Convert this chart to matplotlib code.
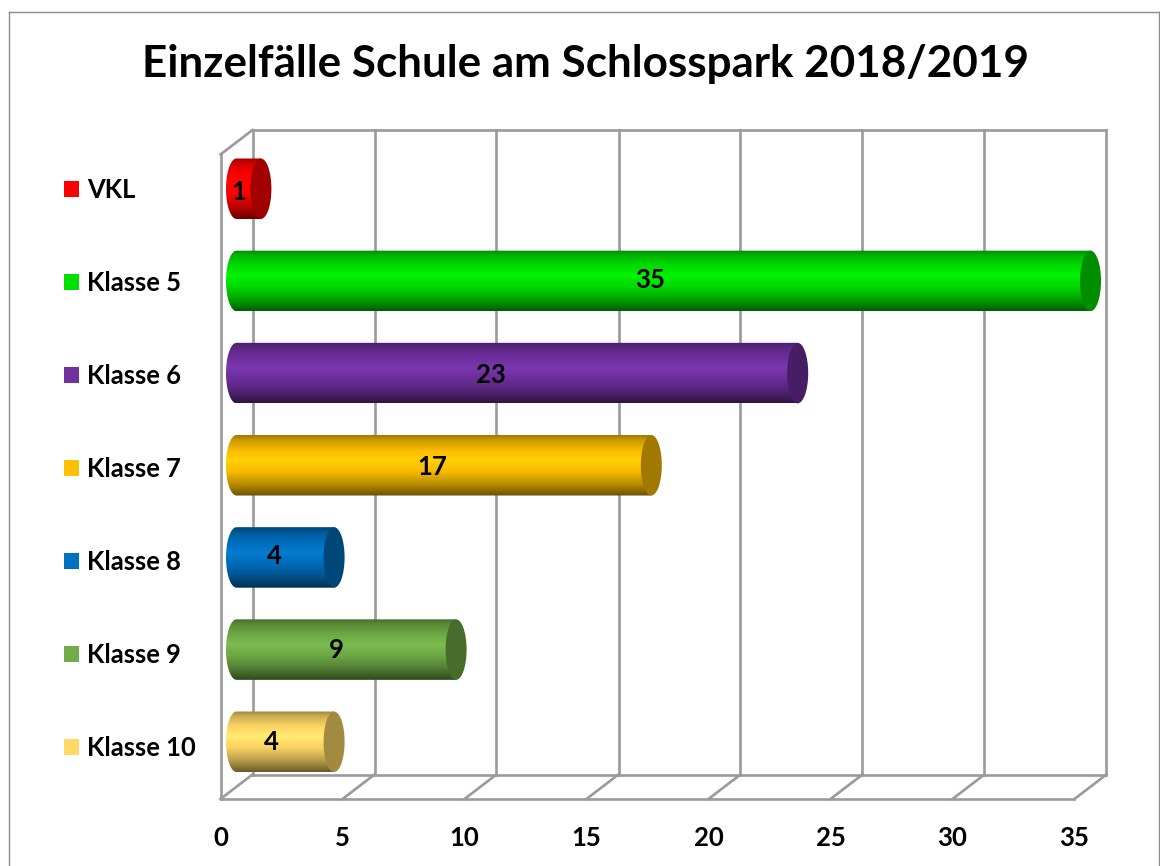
import numpy as np
import matplotlib
matplotlib.use("Agg")
import matplotlib.pyplot as plt
from matplotlib.patches import Patch, Ellipse, PathPatch
from matplotlib.path import Path
from matplotlib.lines import Line2D
from matplotlib.colors import to_rgb

categories = ["VKL", "Klasse 5", "Klasse 6", "Klasse 7", "Klasse 8", "Klasse 9", "Klasse 10"]
values = [1, 35, 23, 17, 4, 9, 4]
colors = ["#FF0000", "#00E000", "#7030A0", "#FFC000", "#0070C0", "#70AD47", "#FFD966"]
x_ticks = [0, 5, 10, 15, 20, 25, 30, 35]
title = "Einzelfälle Schule am Schlosspark 2018/2019"

W, H = 1160, 866
plt.rcParams["font.family"] = ["Lato", "DejaVu Sans"]
plt.rcParams["font.weight"] = "bold"

# layout, in pixels
AX_L, AX_R, AX_T, AX_B = 220.5, 1106.5, 130, 799
PX_X, PX_Y, Y0 = 24.4, 92.17, 188.75
DEPTH_X, DEPTH_Y = 32 / PX_X, 24.5 / PX_Y
BAR_H = 60.5 / PX_Y
CAP_W = 10.5 / PX_X
BAR_X0 = 16 / PX_X
GRID = "#9A9A9A"
LW = 1.9

fig = plt.figure(figsize=(W / 100, H / 100), dpi=100)
ax = fig.add_axes([AX_L / W, 1 - AX_B / H, (AX_R - AX_L) / W, (AX_B - AX_T) / H])
xmax = (AX_R - AX_L) / PX_X
ybot, ytop = (AX_B - Y0) / PX_Y, (AX_T - Y0) / PX_Y
ax.set_xlim(0, xmax)
ax.set_ylim(ybot, ytop)
for s in ax.spines.values():
    s.set_visible(False)
ax.set_yticks([])
ax.set_xticks(x_ticks)
ax.tick_params(axis="x", length=0, pad=19.5, labelsize=18.5)
ax.patch.set_visible(False)

# 3D frame
front_top = ytop + DEPTH_Y
line = dict(color=GRID, lw=LW, zorder=1, clip_on=False, solid_capstyle="projecting")
for t in x_ticks:
    ax.plot([t + DEPTH_X, t + DEPTH_X], [ytop, ybot - DEPTH_Y], **line)
    ax.plot([t, t + DEPTH_X], [ybot, ybot - DEPTH_Y], **line)
ax.plot([DEPTH_X, x_ticks[-1] + DEPTH_X], [ytop, ytop], **line)
ax.plot([DEPTH_X, x_ticks[-1] + DEPTH_X], [ybot - DEPTH_Y, ybot - DEPTH_Y], **line)
ax.plot([0, x_ticks[-1]], [ybot, ybot], **line)
ax.plot([0, 0], [ybot, front_top], **line)
ax.plot([0, DEPTH_X], [front_top, ytop], **line)

# cylinders
stops = np.array([0.0, 0.08, 0.25, 0.42, 0.60, 0.80, 1.0])
factors = np.array([0.62, 0.80, 0.98, 1.06, 0.97, 0.74, 0.42])
t_grad = np.linspace(0, 1, 128)
for i, (v, c) in enumerate(zip(values, colors)):
    rgb = np.array(to_rgb(c))
    f = np.interp(t_grad, stops, factors)
    grad = np.clip(rgb[None, :] * f[:, None] + np.maximum(f[:, None] - 1, 0) * 0.35, 0, 1)[:, None, :]
    x_start, x_end = BAR_X0, BAR_X0 + v
    top, bot = i - BAR_H / 2, i + BAR_H / 2
    th = np.linspace(np.pi / 2, 3 * np.pi / 2, 40)
    left = np.column_stack([x_start + CAP_W * np.cos(th), i - BAR_H / 2 * np.sin(th)])
    verts = np.vstack([[[x_end, top]], left, [[x_end, bot]], [[x_end, top]]])
    clip = PathPatch(Path(verts), transform=ax.transData, fc="none", ec="none")
    ax.add_patch(clip)
    im = ax.imshow(grad, extent=[x_start - CAP_W, x_end, bot, top], aspect="auto",
                   zorder=3, interpolation="bilinear")
    im.set_clip_path(clip)
    ax.add_patch(Ellipse((x_end, i), 2 * CAP_W, BAR_H, fc=rgb * 0.63, ec="none", zorder=4))
ax.set_xlim(0, xmax)
ax.set_ylim(ybot, ytop)

# data labels (hand-placed in the original, nudged in pixels)
nudge_x = [-10, -13, -26, -12, -11, -10, -14]
nudge_y = [3, -1, 2, 2, -1, 0, 0]
for i, v in enumerate(values):
    ax.annotate(str(v), (BAR_X0 + v / 2, i),
                xytext=(nudge_x[i] * 0.72, -nudge_y[i] * 0.72), textcoords="offset points",
                ha="center", va="center", fontsize=18.5, fontweight="bold", color="black", zorder=6)

# legend
handles = [Patch(fc=c, ec="none", label=n) for n, c in zip(categories, colors)]
fig.legend(handles=handles, loc="upper left", bbox_to_anchor=(64 / W, 1 - 178 / H),
           frameon=False, fontsize=18.4, handlelength=0.6, handleheight=0.6,
           handletextpad=0.30, labelspacing=2.70, borderpad=0, borderaxespad=0)

# title
fig.text(585.5 / W, 1 - 64 / H, title, ha="center", va="center", fontsize=31.7, fontweight="bold", color="black")

# outer border
bx = dict(color="#8C8C8C", lw=1.0, transform=fig.transFigure)
fig.add_artist(Line2D([8.5 / W, 8.5 / W], [0, 1 - 12 / H], **bx))
fig.add_artist(Line2D([8.5 / W, 1159 / W], [1 - 12 / H, 1 - 12 / H], **bx))
fig.add_artist(Line2D([1159 / W, 1159 / W], [0, 1 - 12 / H], **bx))

fig.savefig("out.png", dpi=100)
